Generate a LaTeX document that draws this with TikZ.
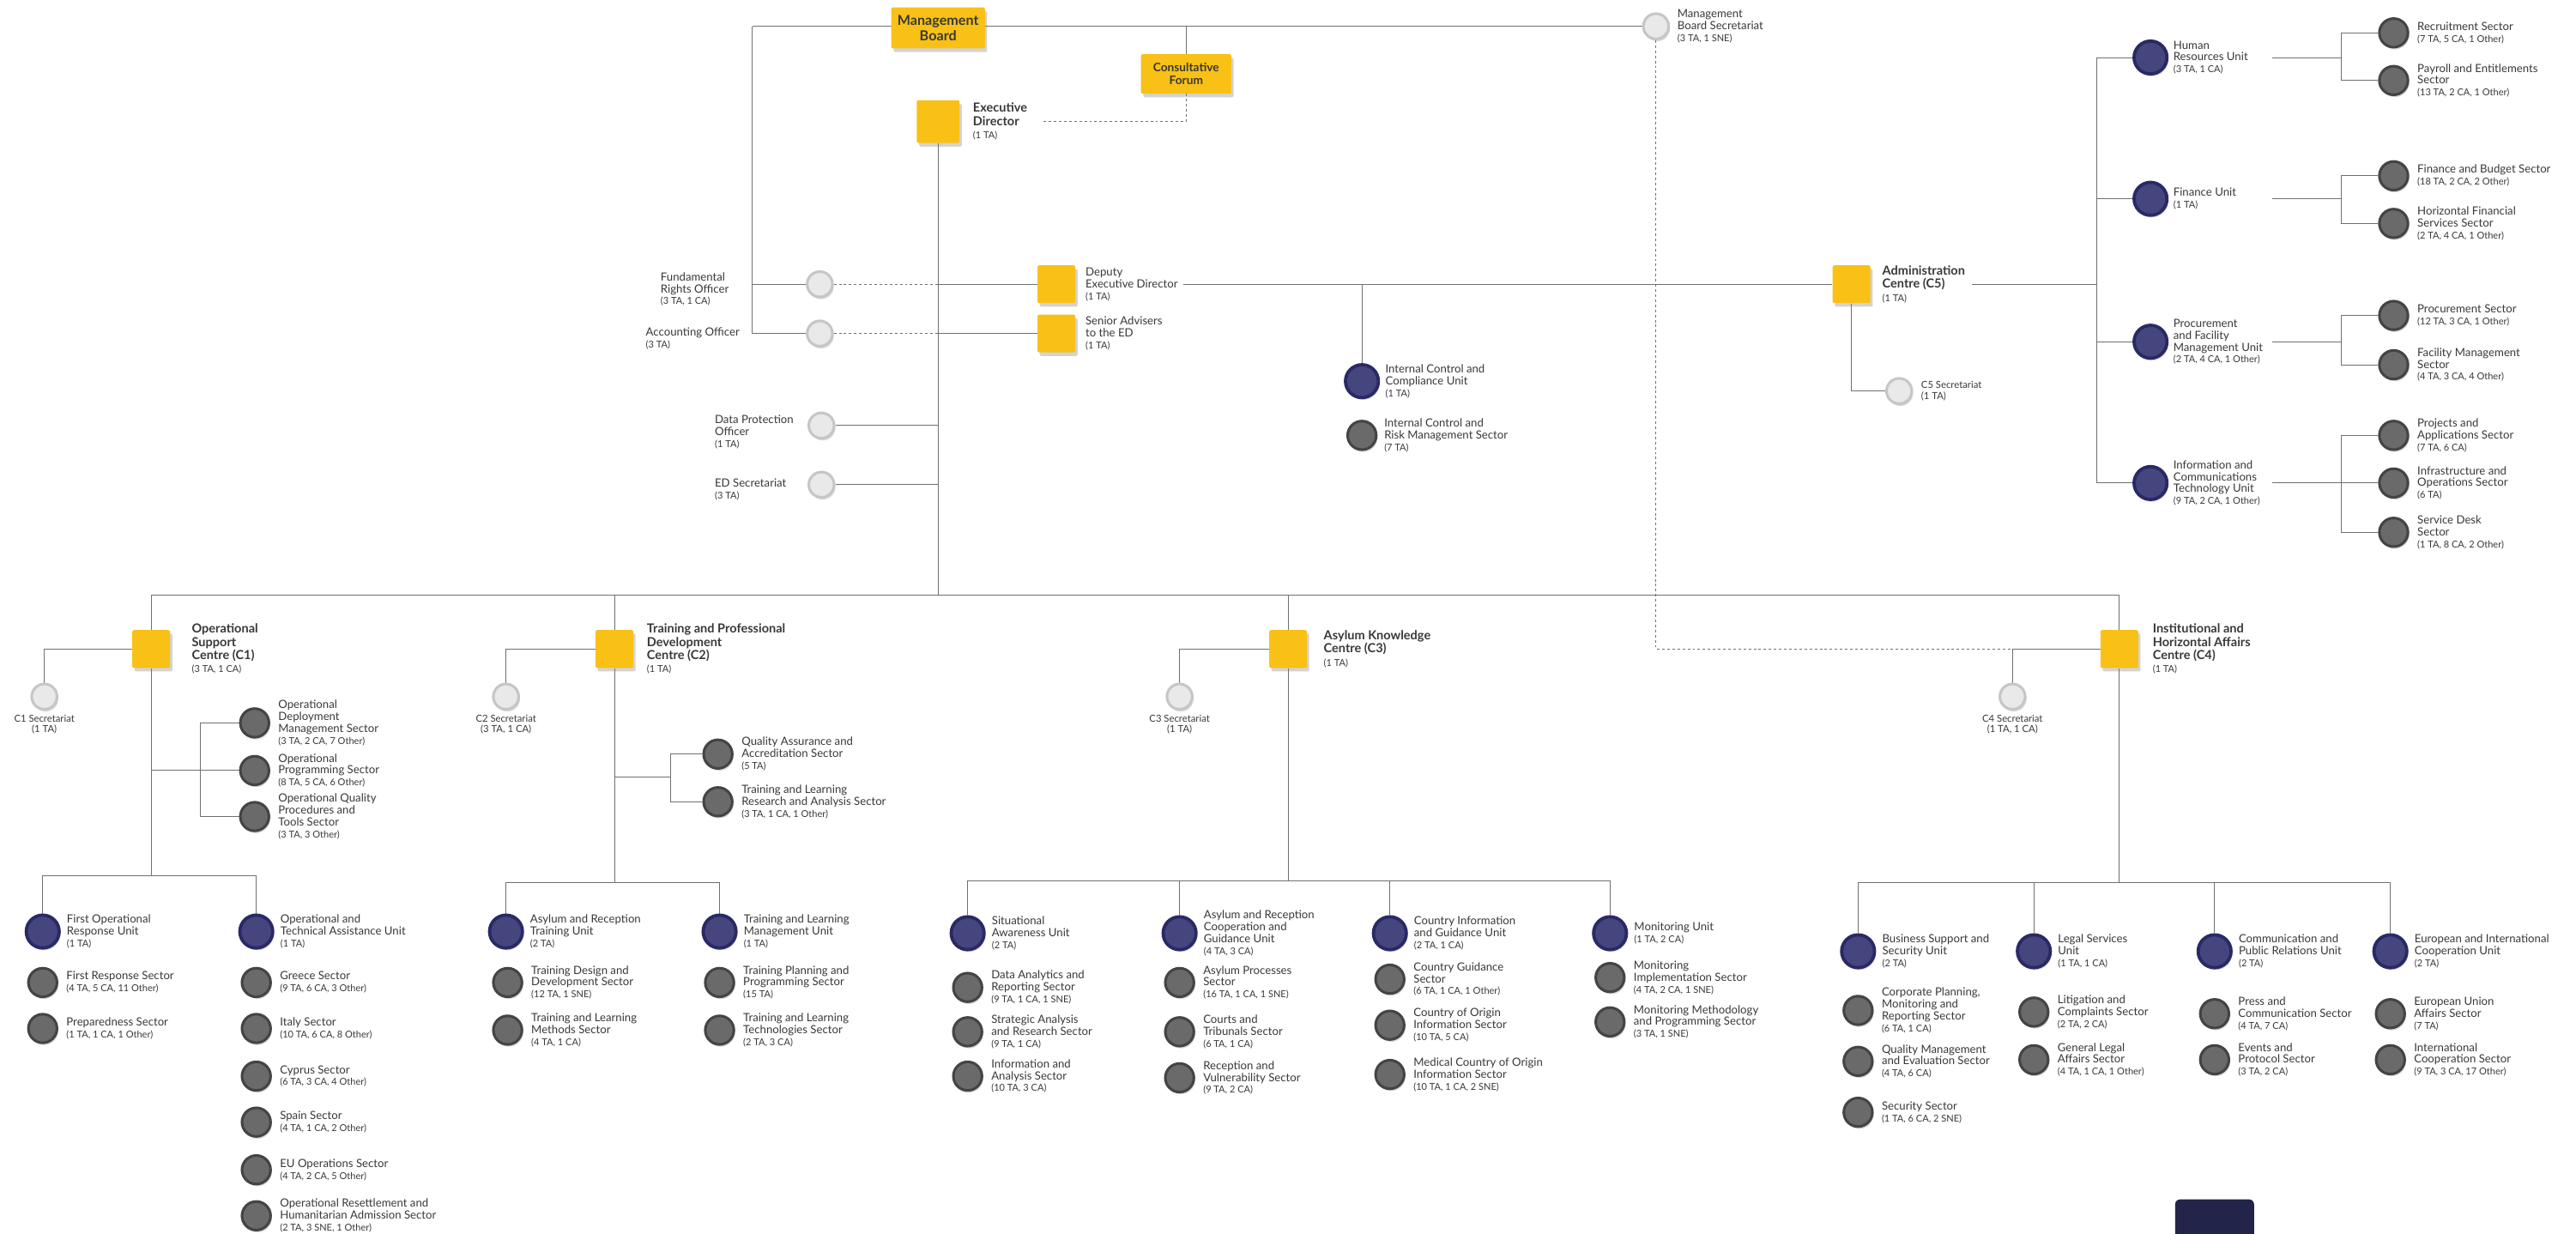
\documentclass[tikz,border=0pt]{standalone}
\usepackage{fontspec}
\setmainfont{Lato}
\usetikzlibrary{positioning,shadows,backgrounds}

\definecolor{amber}{HTML}{F9C116}
\definecolor{unitfill}{HTML}{46467F}
\definecolor{unitrim}{HTML}{2A2966}
\definecolor{sectfill}{HTML}{6A6A6A}
\definecolor{sectrim}{HTML}{444444}
\definecolor{offfill}{HTML}{E9E9E9}
\definecolor{offrim}{HTML}{C6C6C6}
\definecolor{wiregrey}{HTML}{707070}
\definecolor{inkgrey}{HTML}{383838}
\definecolor{navy}{HTML}{232449}

\newcommand{\staff}[1]{{\normalfont\fontsize{8.2}{9}\selectfont #1}}

\begin{document}
\begin{tikzpicture}[x=0.05cm, y=-0.05cm, node distance=2mm,
    every node/.style={text=inkgrey},
    wire/.style={draw=wiregrey, line width=0.7pt},
    dwire/.style={wire, dash pattern=on 2.2pt off 2.2pt},
    shd/.style={drop shadow={shadow xshift=0.4mm, shadow yshift=-0.7mm, opacity=0.3}},
    ctr/.style={rectangle, fill=amber, rounded corners=1.5pt, minimum size=1.15cm, inner sep=0pt,
      drop shadow={shadow xshift=0.7mm, shadow yshift=-1.1mm, opacity=0.35}},
    board/.style={ctr, minimum width=2.85cm, minimum height=1.25cm, align=center,
      font=\bfseries\fontsize{12}{13}\selectfont},
    unit/.style={circle, fill=unitfill, draw=unitrim, line width=0.1cm, minimum size=1cm, inner sep=0pt, shd},
    sect/.style={circle, fill=sectfill, draw=sectrim, line width=0.08cm, minimum size=0.87cm, inner sep=0pt, shd},
    offc/.style={circle, fill=offfill, draw=offrim, line width=0.08cm, minimum size=0.77cm, inner sep=0pt, shd},
    lbl/.style={anchor=west, align=left, inner sep=0pt, font=\fontsize{9.8}{10.3}\selectfont},
    clbl/.style={lbl, font=\bfseries\fontsize{10.8}{11.4}\selectfont},
    slbl/.style={align=center, inner sep=0pt, font=\fontsize{8.4}{9.4}\selectfont},
  ]
  \useasboundingbox (0,0) rectangle (1568,751);
%
% board, forum, executive director
  \node[board] (mb) at (571,17) {Management\\Board};
  \node[board, minimum width=2.75cm, minimum height=1.2cm, font=\bfseries\fontsize{10.2}{11.5}\selectfont] (cf) at (722,45) {Consultative\\Forum};
  \node[ctr, minimum size=1.3cm] (ed) at (571,74) {};
  \node[clbl, right=4mm of ed] (edL) {Executive\\Director\\\staff{(1 TA)}};
  \node[offc] (mbs) at (1008,16) {};
  \node[lbl, right=2.2mm of mbs] (mbsL) {Management\\Board Secretariat\\\staff{(3 TA, 1 SNE)}};
%
% officers round the director
  \node[offc] (fro) at (499,173) {};
  \node[lbl] (froL) at (402,176) {Fundamental\\Rights Officer\\\staff{(3 TA, 1 CA)}};
  \node[offc] (ao) at (499,203) {};
  \node[lbl] (aoL) at (393,206) {Accounting Officer\\\staff{(3 TA)}};
  \node[offc] (dpo) at (500,259) {};
  \node[lbl] (dpoL) at (435,263) {Data Protection\\Officer\\\staff{(1 TA)}};
  \node[offc] (eds) at (500,295) {};
  \node[lbl] (edsL) at (435,298) {ED Secretariat\\\staff{(3 TA)}};
  \node[ctr] (ded) at (643,173) {};
  \node[lbl, right=3mm of ded] (dedL) {Deputy\\Executive Director\\\staff{(1 TA)}};
  \node[ctr] (sadv) at (643,203) {};
  \node[lbl, right=3mm of sadv] (sadvL) {Senior Advisers\\to the ED\\\staff{(1 TA)}};
  \node[unit] (icu) at (829,232) {};
  \node[lbl, right=1.6mm of icu] (icuL) {Internal Control and\\Compliance Unit\\\staff{(1 TA)}};
  \node[sect] (icr) at (829,265) {};
  \node[lbl, right=2mm of icr] (icrL) {Internal Control and\\Risk Management Sector\\\staff{(7 TA)}};
%
% administration centre (C5)
  \node[ctr] (adm) at (1127,173) {};
  \node[clbl, right=3.5mm of adm] (admL) {Administration\\Centre (C5)\\\staff{(1 TA)}};
  \node[offc] (c5s) at (1156,238) {};
  \node[slbl, anchor=west, align=left, right=2.4mm of c5s] (c5sL) {C5 Secretariat\\(1 TA)};
  \foreach \n/\y/\t in {
      hr/35/{Human\\Resources Unit\\\staff{(3 TA, 1 CA)}},
      fin/121/{Finance Unit\\\staff{(1 TA)}},
      pfm/208/{Procurement\\and Facility\\Management Unit\\\staff{(2 TA, 4 CA, 1 Other)}},
      ict/294/{Information and\\Communications\\Technology Unit\\\staff{(9 TA, 2 CA, 1 Other)}}}{
    \node[unit] (\n) at (1309,\y) {};
    \node[lbl, right=1.4mm of \n] (\n-t) {\t};
  }
  \foreach \n/\y/\t in {
      rec/20/{Recruitment Sector\\\staff{(7 TA, 5 CA, 1 Other)}},
      pay/49/{Payroll and Entitlements\\Sector\\\staff{(13 TA, 2 CA, 1 Other)}},
      fbs/107/{Finance and Budget Sector\\\staff{(18 TA, 2 CA, 2 Other)}},
      hfs/136/{Horizontal Financial\\Services Sector\\\staff{(2 TA, 4 CA, 1 Other)}},
      prs/192/{Procurement Sector\\\staff{(12 TA, 3 CA, 1 Other)}},
      fms/222/{Facility Management\\Sector\\\staff{(4 TA, 3 CA, 4 Other)}},
      pas/265/{Projects and\\Applications Sector\\\staff{(7 TA, 6 CA)}},
      ios/294/{Infrastructure and\\Operations Sector\\\staff{(6 TA)}},
      sds/324/{Service Desk\\Sector\\\staff{(1 TA, 8 CA, 2 Other)}}}{
    \node[sect] (\n) at (1457,\y) {};
    \node[lbl, right=2.4mm of \n] (\n-t) {\t};
  }
%
% the four centres
  \node[ctr] (c1) at (92,395) {};
  \node[clbl, right=6.5mm of c1] (c1L) {Operational\\Support\\Centre (C1)\\\staff{(3 TA, 1 CA)}};
  \node[ctr] (c2) at (374,395) {};
  \node[clbl, right=4mm of c2] (c2L) {Training and Professional\\Development\\Centre (C2)\\\staff{(1 TA)}};
  \node[ctr] (c3) at (784,395) {};
  \node[clbl, right=5mm of c3] (c3L) {Asylum Knowledge\\Centre (C3)\\\staff{(1 TA)}};
  \node[ctr] (c4) at (1290,395) {};
  \node[clbl, right=4.3mm of c4] (c4L) {Institutional and\\Horizontal Affairs\\Centre (C4)\\\staff{(1 TA)}};
  \foreach \n/\x/\t in {c1s/27/{C1 Secretariat\\(1 TA)}, c2s/308/{C2 Secretariat\\(3 TA, 1 CA)},
      c3s/718/{C3 Secretariat\\(1 TA)}, c4s/1225/{C4 Secretariat\\(1 TA, 1 CA)}}{
    \node[offc] (\n) at (\x,424) {};
    \node[slbl, below=1.2mm of \n] (\n-t) {\t};
  }
%
% units below the centres
  \foreach \n/\x/\y/\t in {
      fru/26/567/{First Operational\\Response Unit\\\staff{(1 TA)}},
      ota/156/567/{Operational and\\Technical Assistance Unit\\\staff{(1 TA)}},
      art/308/567/{Asylum and Reception\\Training Unit\\\staff{(2 TA)}},
      tlm/438/567/{Training and Learning\\Management Unit\\\staff{(1 TA)}},
      saw/589/568/{Situational\\Awareness Unit\\\staff{(2 TA)}},
      arc/718/568/{Asylum and Reception\\Cooperation and\\Guidance Unit\\\staff{(4 TA, 3 CA)}},
      cig/846/568/{Country Information\\and Guidance Unit\\\staff{(2 TA, 1 CA)}},
      mon/980/568/{Monitoring Unit\\\staff{(1 TA, 2 CA)}},
      bss/1131/579/{Business Support and\\Security Unit\\\staff{(2 TA)}},
      lsu/1238/579/{Legal Services\\Unit\\\staff{(1 TA, 1 CA)}},
      cpr/1348/579/{Communication and\\Public Relations Unit\\\staff{(2 TA)}},
      eic/1455/579/{European and International\\Cooperation Unit\\\staff{(2 TA)}}}{
    \node[unit] (\n) at (\x,\y) {};
    \node[lbl, right=1.8mm of \n] (\n-t) {\t};
  }
%
% sectors
  \foreach \n/\x/\y/\t in {
      odm/155/440/{Operational\\Deployment\\Management Sector\\\staff{(3 TA, 2 CA, 7 Other)}},
      opr/155/469/{Operational\\Programming Sector\\\staff{(8 TA, 5 CA, 6 Other)}},
      oqp/155/497/{Operational Quality\\Procedures and\\Tools Sector\\\staff{(3 TA, 3 Other)}},
      frs/26/598/{First Response Sector\\\staff{(4 TA, 5 CA, 11 Other)}},
      prp/26/626/{Preparedness Sector\\\staff{(1 TA, 1 CA, 1 Other)}},
      gre/156/598/{Greece Sector\\\staff{(9 TA, 6 CA, 3 Other)}},
      ita/156/626/{Italy Sector\\\staff{(10 TA, 6 CA, 8 Other)}},
      cyp/156/655/{Cyprus Sector\\\staff{(6 TA, 3 CA, 4 Other)}},
      spa/156/683/{Spain Sector\\\staff{(4 TA, 1 CA, 2 Other)}},
      euo/156/712/{EU Operations Sector\\\staff{(4 TA, 2 CA, 5 Other)}},
      orh/156/740/{Operational Resettlement and\\Humanitarian Admission Sector\\\staff{(2 TA, 3 SNE, 1 Other)}},
      qaa/437/459/{Quality Assurance and\\Accreditation Sector\\\staff{(5 TA)}},
      tlr/437/488/{Training and Learning\\Research and Analysis Sector\\\staff{(3 TA, 1 CA, 1 Other)}},
      tdd/309/598/{Training Design and\\Development Sector\\\staff{(12 TA, 1 SNE)}},
      tlms/309/627/{Training and Learning\\Methods Sector\\\staff{(4 TA, 1 CA)}},
      tpp/438/598/{Training Planning and\\Programming Sector\\\staff{(15 TA)}},
      tlt/438/627/{Training and Learning\\Technologies Sector\\\staff{(2 TA, 3 CA)}},
      dar/589/601/{Data Analytics and\\Reporting Sector\\\staff{(9 TA, 1 CA, 1 SNE)}},
      sar/589/628/{Strategic Analysis\\and Research Sector\\\staff{(9 TA, 1 CA)}},
      ias/589/655/{Information and\\Analysis Sector\\\staff{(10 TA, 3 CA)}},
      aps/718/598/{Asylum Processes\\Sector\\\staff{(16 TA, 1 CA, 1 SNE)}},
      ctb/718/628/{Courts and\\Tribunals Sector\\\staff{(6 TA, 1 CA)}},
      rvs/718/656/{Reception and\\Vulnerability Sector\\\staff{(9 TA, 2 CA)}},
      cgs/846/596/{Country Guidance\\Sector\\\staff{(6 TA, 1 CA, 1 Other)}},
      coi/846/624/{Country of Origin\\Information Sector\\\staff{(10 TA, 5 CA)}},
      mco/846/654/{Medical Country of Origin\\Information Sector\\\staff{(10 TA, 1 CA, 2 SNE)}},
      mis/980/595/{Monitoring\\Implementation Sector\\\staff{(4 TA, 2 CA, 1 SNE)}},
      mmp/980/622/{Monitoring Methodology\\and Programming Sector\\\staff{(3 TA, 1 SNE)}},
      cpm/1131/615/{Corporate Planning,\\Monitoring and\\Reporting Sector\\\staff{(6 TA, 1 CA)}},
      qme/1131/646/{Quality Management\\and Evaluation Sector\\\staff{(4 TA, 6 CA)}},
      ssec/1131/677/{Security Sector\\\staff{(1 TA, 6 CA, 2 SNE)}},
      lcs/1238/616/{Litigation and\\Complaints Sector\\\staff{(2 TA, 2 CA)}},
      gla/1238/645/{General Legal\\Affairs Sector\\\staff{(4 TA, 1 CA, 1 Other)}},
      pcs/1348/617/{Press and\\Communication Sector\\\staff{(4 TA, 7 CA)}},
      eps/1348/645/{Events and\\Protocol Sector\\\staff{(3 TA, 2 CA)}},
      eua/1455/617/{European Union\\Affairs Sector\\\staff{(7 TA)}},
      ics/1455/645/{International\\Cooperation Sector\\\staff{(9 TA, 3 CA, 17 Other)}}}{
    \node[sect] (\n) at (\x,\y) {};
    \node[lbl, right=2.4mm of \n] (\n-t) {\t};
  }
%
% connectors
  \begin{pgfonlayer}{background}
    \coordinate (tl) at (458,16);
    \coordinate (cfe) at (635,74);
    \coordinate (busL) at (92,362);
    \coordinate (busR) at (1290,362);
    \coordinate (abus) at (1276,173);
    \coordinate (sx) at (1383,0);
    \coordinate (sj) at (1425,0);
    \draw[wire] (tl) -- (mbs);
    \draw[wire] (cf) -- (cf |- tl);
    \draw[dwire] (cf.south) |- (cfe);
    \draw[wire] (tl) |- (ao);
    \draw[wire] (tl |- fro) -- (fro);
    \draw[dwire] (fro) -- (fro -| ed);
    \draw[wire] (fro -| ed) -- (ded);
    \draw[dwire] (ao) -- (ao -| ed);
    \draw[wire] (ao -| ed) -- (sadv);
    \draw[wire] (dpo) -- (dpo -| ed);
    \draw[wire] (eds) -- (eds -| ed);
    \draw[wire] (ed) -- (ed |- busL);
    \draw[wire] ([xshift=1.5mm]dedL.east) -- (adm);
    \draw[wire] (icu |- adm) -- (icu);
    \draw[wire] (adm) |- (c5s);
    \draw[wire] ([xshift=2mm]admL.east) -- (abus);
    \draw[wire] (abus |- hr) -- (abus |- ict);
    \foreach \u/\a/\b in {hr/rec/pay, fin/fbs/hfs, pfm/prs/fms, ict/pas/sds}{
      \draw[wire] (abus |- \u) -- (\u);
      \draw[wire] (\u -| sx) -- (\u -| sj);
      \draw[wire] (\a) -| (\u -| sj) |- (\b);
    }
    \draw[wire] (ict -| sj) -- (ios);
    \draw[dwire] (mbs) |- (c4s |- c4);
    % bus to the centres
    \draw[wire] (busL) -- (busR);
    \draw[wire] (busL) -- (c1);
    \draw[wire] (c2 |- busL) -- (c2);
    \draw[wire] (c3 |- busL) -- (c3);
    \draw[wire] (busR) -- (c4);
    % C1
    \coordinate (c1j) at (122,469);
    \coordinate (c1b) at (92,533);
    \draw[wire] (c1) -| (c1s);
    \draw[wire] (c1 |- c1j) -- (opr);
    \draw[wire] (odm) -| (c1j) |- (oqp);
    \draw[wire] (c1) -- (c1b);
    \draw[wire] (fru) |- (c1b) -| (ota);
    % C2
    \coordinate (c2j) at (408,473);
    \coordinate (c2b) at (374,537);
    \draw[wire] (c2) -| (c2s);
    \draw[wire] (c2 |- c2j) -- (c2j);
    \draw[wire] (qaa) -| (c2j) |- (tlr);
    \draw[wire] (c2) -- (c2b);
    \draw[wire] (art) |- (c2b) -| (tlm);
    % C3
    \coordinate (c3b) at (784,536);
    \draw[wire] (c3) -| (c3s);
    \draw[wire] (c3) -- (c3b);
    \draw[wire] (saw) |- (c3b) -| (mon);
    \draw[wire] (arc |- c3b) -- (arc);
    \draw[wire] (cig |- c3b) -- (cig);
    % C4
    \coordinate (c4b) at (1290,537);
    \draw[wire] (c4) -| (c4s);
    \draw[wire] (c4) -- (c4b);
    \draw[wire] (bss) |- (c4b) -| (eic);
    \draw[wire] (lsu |- c4b) -- (lsu);
    \draw[wire] (cpr |- c4b) -- (cpr);
  \end{pgfonlayer}
%
  \fill[navy] (1324,751) [rounded corners=1.5mm] -- (1324,730) -- (1372,730) [sharp corners] -- (1372,751) -- cycle;
\end{tikzpicture}
\end{document}
